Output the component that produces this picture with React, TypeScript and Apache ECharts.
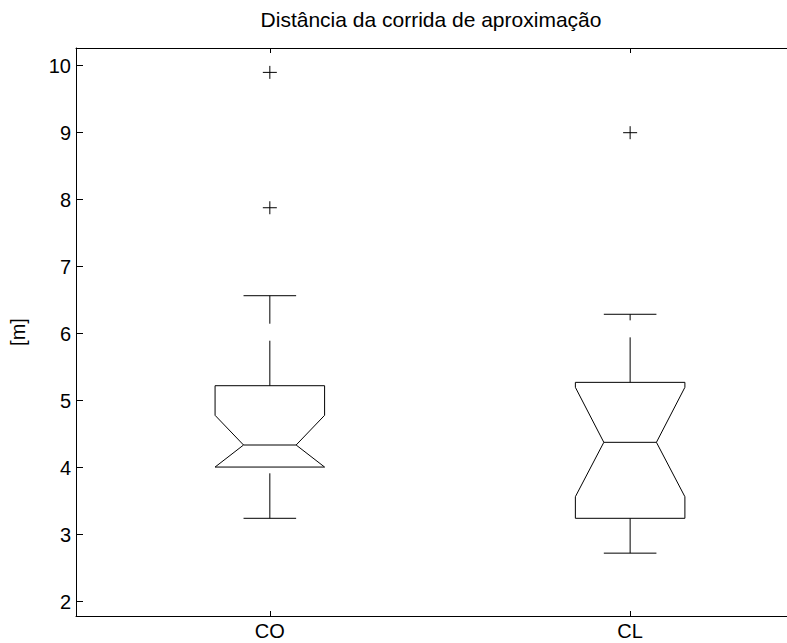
import React, { useEffect, useRef } from "react";
import * as echarts from "echarts";

const categories = ["CO", "CL"];
const positions = [1, 2];
const whiskerLow = [3.245, 2.725];
const q1 = [4.01, 3.245];
const notchLow = [4.01, 3.567];
const median = [4.339, 4.379];
const notchHigh = [4.782, 5.2];
const q3 = [5.224, 5.274];
const whiskerHigh = [6.567, 6.29];
const outlierGroup = [0, 0, 1];
const outlierValue = [9.9, 7.88, 9.0];
const yTicks = [2, 3, 4, 5, 6, 7, 8, 9, 10];
const titleText = "Distância da corrida de aproximação";
const yLabel = "[m]";

const FONT = "'Liberation Sans', Arial, Helvetica, sans-serif";
const BOX_HALF = 0.152;
const NOTCH_HALF = 0.073;
const CAP_HALF = 0.073;

export default function App() {
  const ref = useRef<HTMLDivElement>(null);
  useEffect(() => {
    document.body.style.margin = "0";
    document.body.style.overflow = "hidden";
    const chart = echarts.init(ref.current!, null, { renderer: "svg" });
    const boxData = positions.map((p, i) => [
      p,
      whiskerLow[i],
      q1[i],
      notchLow[i],
      median[i],
      notchHigh[i],
      q3[i],
      whiskerHigh[i],
    ]);
    const outData = outlierGroup.map((g, i) => [positions[g], outlierValue[i]]);
    const stroke = { stroke: "#000", lineWidth: 1, fill: "none" };
    const axisCommon = {
      type: "value" as const,
      min: 0.462,
      max: 2.4354,
      splitLine: { show: false },
      axisLine: { show: true, onZero: false, lineStyle: { color: "#000", width: 1 } },
    };
    chart.setOption({
      animation: false,
      backgroundColor: "#fff",
      grid: { left: 74, top: 48, width: 713, height: 568, show: false },
      graphic: [
        {
          type: "text",
          x: 431,
          y: 19,
          style: {
            text: titleText,
            fill: "#000",
            font: `21px ${FONT}`,
            textAlign: "center",
            textVerticalAlign: "middle",
          },
        },
      ],
      xAxis: [
        {
          ...axisCommon,
          position: "bottom",
          axisTick: { show: true, inside: true, length: 5, customValues: positions, lineStyle: { color: "#000" } },
          axisLabel: {
            show: true,
            customValues: positions,
            formatter: (v: number) => categories[positions.indexOf(v)] ?? "",
            color: "#000",
            fontFamily: FONT,
            fontSize: 20,
            margin: 5,
          },
        },
        {
          ...axisCommon,
          position: "top",
          axisTick: { show: true, inside: true, length: 5, customValues: positions, lineStyle: { color: "#000" } },
          axisLabel: { show: false },
        },
      ],
      yAxis: [
        {
          type: "value",
          min: 1.787,
          max: 10.264,
          splitLine: { show: false },
          axisLine: { show: true, onZero: false, lineStyle: { color: "#000", width: 1 } },
          position: "left",
          name: yLabel,
          nameLocation: "middle",
          nameGap: 48,
          nameRotate: 90,
          nameTextStyle: { color: "#000", fontFamily: FONT, fontSize: 20 },
          axisTick: { show: true, inside: true, length: 7, customValues: yTicks, lineStyle: { color: "#000" } },
          axisLabel: {
            show: true,
            customValues: yTicks,
            color: "#000",
            fontFamily: FONT,
            fontSize: 20,
            margin: 5,
          },
        },
      ],
      series: [
        {
          type: "custom",
          xAxisIndex: 0,
          yAxisIndex: 0,
          data: boxData,
          renderItem: (params: any, api: any) => {
            const x = api.value(0);
            const wl = api.value(1);
            const b1 = api.value(2);
            const nl = api.value(3);
            const md = api.value(4);
            const nh = api.value(5);
            const b3 = api.value(6);
            const wh = api.value(7);
            const c = (xx: number, yy: number) => api.coord([xx, yy]);
            const poly = [
              c(x - BOX_HALF, b3),
              c(x + BOX_HALF, b3),
              c(x + BOX_HALF, nh),
              c(x + NOTCH_HALF, md),
              c(x + BOX_HALF, nl),
              c(x + BOX_HALF, b1),
              c(x - BOX_HALF, b1),
              c(x - BOX_HALF, nl),
              c(x - NOTCH_HALF, md),
              c(x - BOX_HALF, nh),
            ];
            const line = (p1: number[], p2: number[], dash?: number[]) => ({
              type: "line",
              shape: { x1: p1[0], y1: p1[1], x2: p2[0], y2: p2[1] },
              style: { ...stroke, lineDash: dash },
            });
            return {
              type: "group",
              children: [
                { type: "polygon", shape: { points: poly }, style: stroke },
                line(c(x - NOTCH_HALF, md), c(x + NOTCH_HALF, md)),
                line(c(x, wl), c(x, b1), [45, 17]),
                line(c(x, b3), c(x, wh), [45, 17]),
                line(c(x - CAP_HALF, wl), c(x + CAP_HALF, wl)),
                line(c(x - CAP_HALF, wh), c(x + CAP_HALF, wh)),
              ],
            };
          },
        },
        {
          type: "custom",
          xAxisIndex: 0,
          yAxisIndex: 0,
          data: outData,
          renderItem: (params: any, api: any) => {
            const p = api.coord([api.value(0), api.value(1)]);
            return {
              type: "group",
              children: [
                { type: "line", shape: { x1: p[0] - 7, y1: p[1], x2: p[0] + 7, y2: p[1] }, style: stroke },
                { type: "line", shape: { x1: p[0], y1: p[1] - 6.5, x2: p[0], y2: p[1] + 6.5 }, style: stroke },
              ],
            };
          },
        },
      ],
    });
    return () => chart.dispose();
  }, []);
  return <div ref={ref} style={{ width: 787, height: 643, overflow: "hidden" }} />;
}
